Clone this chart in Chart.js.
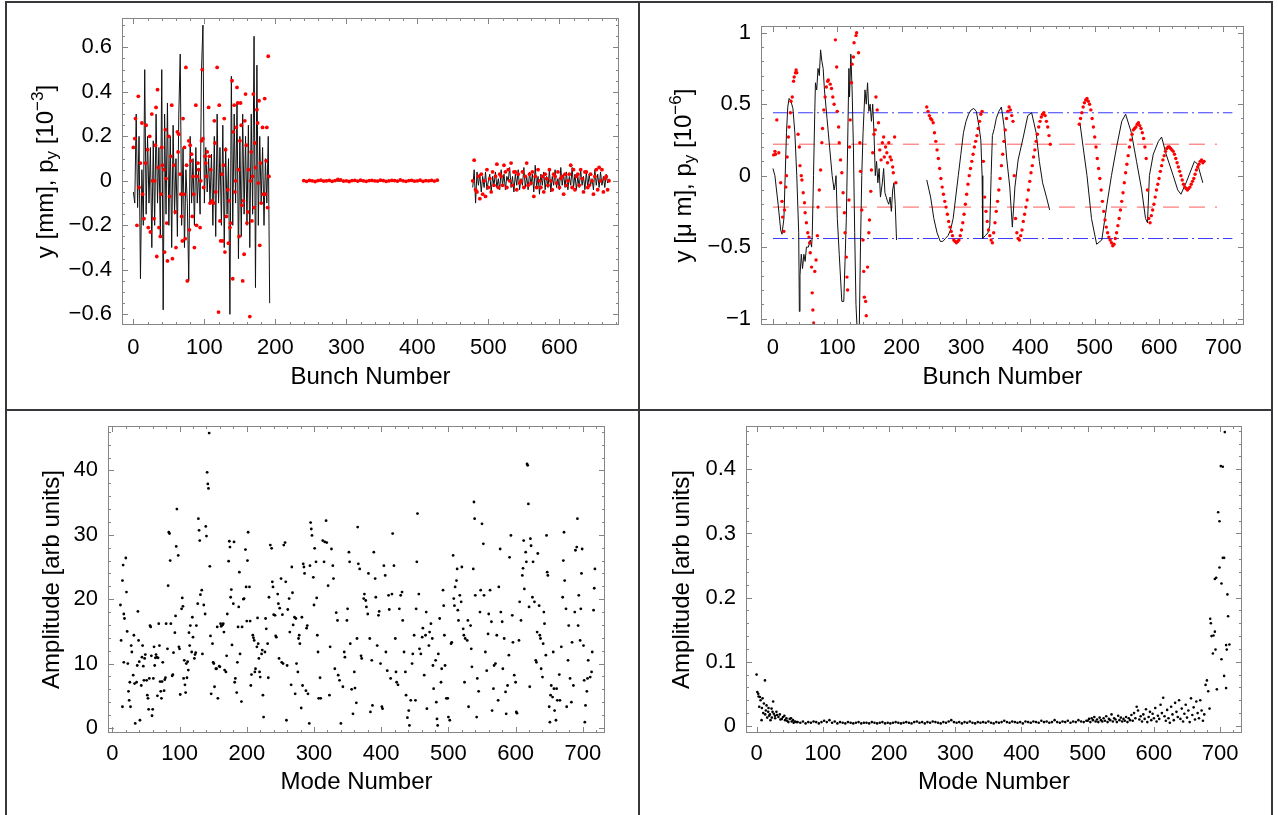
<!DOCTYPE html>
<html>
<head>
<meta charset="utf-8">
<script src="https://cdn.jsdelivr.net/npm/chart.js@4/dist/chart.umd.min.js"></script>
<style>
  body { margin: 0; background: #fff; width: 1278px; height: 815px; overflow: hidden; position: relative; }
  canvas { position: absolute; }
  .rule { position: absolute; background: #37373c; }
</style>
</head>
<body>
<div class="rule" style="left:5px;top:1px;width:1268px;height:2px"></div>
<div class="rule" style="left:5px;top:409px;width:1268px;height:2px"></div>
<div class="rule" style="left:5px;top:1px;width:2px;height:814px"></div>
<div class="rule" style="left:638px;top:1px;width:2px;height:814px"></div>
<div class="rule" style="left:1271px;top:1px;width:2px;height:814px"></div>

<canvas id="bunchY" width="631" height="406" style="left:7px;top:3px"></canvas>
<canvas id="bunchInv" width="631" height="406" style="left:640px;top:3px"></canvas>
<canvas id="modeY" width="631" height="404" style="left:7px;top:411px"></canvas>
<canvas id="modeInv" width="631" height="404" style="left:640px;top:411px"></canvas>

<script>
// ---------- tick labels ----------
const P1_XTICKS = [0, 100, 200, 300, 400, 500, 600];
const P1_YTICKS = [-0.6, -0.4, -0.2, 0, 0.2, 0.4, 0.6];
const P2_XTICKS = [0, 100, 200, 300, 400, 500, 600, 700];
const P2_YTICKS = [-1, -0.5, 0, 0.5, 1];
const P3_XTICKS = [0, 100, 200, 300, 400, 500, 600, 700];
const P3_YTICKS = [0, 10, 20, 30, 40];
const P4_XTICKS = [0, 100, 200, 300, 400, 500, 600, 700];
const P4_YTICKS = [0, 0.1, 0.2, 0.3, 0.4];

// ---------- panel 1: y [mm] (black line) and p_y (red dots) per bunch ----------
// train 1: bunches 0..192, every 2nd bunch
const P1_LINE_A = [-0.05,-0.1,0.3,-0.12,0.2,-0.44,0.05,-0.2,0.5,-0.15,
  0.2,-0.1,0.15,-0.3,0.18,-0.2,0.3,-0.1,0.15,-0.25,
  0.5,-0.58,0.3,-0.15,0.35,-0.2,0.2,-0.3,0.25,-0.15,
  0.1,-0.25,0.3,0.57,-0.2,0.15,-0.3,0.05,-0.1,-0.45,
  0.2,-0.1,0.1,-0.2,0.15,-0.1,0.05,-0.15,0.5,0.7,
  -0.1,0.15,-0.05,0.1,-0.1,0.12,-0.2,0.2,-0.25,0.3,
  -0.1,0.15,-0.2,0.25,-0.3,0.15,-0.15,0.1,-0.6,0.47,
  -0.2,0.3,-0.1,0.35,-0.35,0.2,-0.25,0.3,-0.15,0.2,
  -0.2,0.25,-0.3,0.3,-0.15,0.65,-0.48,0.52,-0.2,0.2,
  -0.1,0.15,-0.2,0.1,-0.1,0.2,-0.55];
// train 2: bunches 240..430, every 5th bunch
const P1_LINE_B = [0.001,-0.001,0.002,0,-0.002,0.001,0.003,-0.001,0.001,0,
  -0.002,0.002,0.001,-0.001,0.002,0,-0.001,0.002,0.001,-0.002,
  0.001,0,0.002,-0.001,0.001,0.002,-0.002,0,0.001,-0.001,
  0.002,0,-0.001,0.001,0.002,-0.002,0.001,0,0.001];
// train 3: bunches 478..670, every 2nd bunch
const P1_LINE_C = [-0.03,0.05,-0.1,0.04,-0.02,0.03,-0.05,0.02,-0.03,0.04,
  -0.04,0,0.03,-0.05,0.02,-0.02,0.04,-0.03,0.01,-0.04,
  0.05,-0.02,0.03,-0.04,0.02,0,0.06,-0.03,0.02,-0.05,
  0.03,-0.02,0.05,-0.04,0.01,-0.02,0.06,-0.03,0.02,-0.04,
  0.04,-0.02,0.03,-0.05,0.07,-0.03,0.02,-0.06,0.03,-0.02,
  0.04,-0.04,0.02,-0.03,0.05,-0.05,0.02,-0.02,0.05,-0.03,
  0.01,-0.04,0.06,-0.02,0.03,-0.03,0.04,-0.04,0.02,-0.02,
  0.06,-0.03,0.03,-0.04,0.02,-0.03,0.05,-0.02,0.02,-0.04,
  0.04,-0.03,0.03,-0.02,0.01,-0.04,0.05,-0.02,0.03,-0.03,
  0.04,-0.02,0.02,-0.03,0.03,-0.01,0.01];
const P1_DOT_BUNCH_A = [0,2,3,5,7,8,10,12,13,15,
  17,18,20,21,23,24,26,27,29,30,
  31,32,33,34,35,36,38,39,40,41,
  43,44,45,46,47,48,50,51,53,54,
  55,57,59,60,62,63,64,66,67,68,
  69,70,71,72,73,74,75,76,78,79,
  80,81,82,83,84,85,86,88,89,90,
  91,92,94,95,96,97,98,99,101,102,
  103,104,106,107,108,109,111,113,114,115,
  116,118,120,121,122,123,125,126,127,128,
  129,130,131,133,134,135,136,137,139,140,
  141,142,143,144,145,146,147,148,149,150,
  151,152,153,154,155,156,157,158,159,164,
  161,162,160,165,166,167,168,169,170,171,
  172,174,175,176,177,178,179,180,182,183,
  185,186,187,188,189,190,191];
const P1_DOT_PY_A = [0.15,0.19,0.28,-0.2,0.38,-0.03,0.08,0.26,-0.06,-0.17,
  0.08,0.25,0.14,-0.21,0.2,-0.23,0.3,0,-0.17,0,
  0.16,0.33,-0.34,0.41,0.06,-0.21,-0.25,-0.06,0.15,0.07,
  0.05,-0.32,0.23,0.01,-0.19,-0.36,0.2,-0.07,0.11,0.34,
  -0.35,0.07,-0.14,-0.3,0.22,0.13,0.21,0.03,-0.06,-0.16,
  -0.27,0.28,-0.06,0.15,-0.26,0.51,0.07,-0.45,0.18,-0.22,
  0.16,0.09,0.12,-0.16,0.02,-0.06,-0.3,0.34,-0.2,0.02,
  0.08,0.05,-0.21,0,0.18,0.5,0.19,-0.03,0.11,0.08,
  0.02,0.13,0.33,0.11,-0.1,0.05,-0.09,-0.1,0.27,0.17,
  -0.05,0.51,-0.59,0.34,-0.18,-0.27,0.03,-0.27,0.07,0.28,
  -0.32,0.14,-0.16,-0.04,-0.28,-0.09,-0.21,-0.19,0.45,-0.44,
  0.22,0.34,-0.05,0,0.24,0.42,0.35,0.05,-0.25,0.18,
  0.35,0.25,-0.11,-0.45,-0.09,-0.33,0.27,0.39,0.16,-0.61,
  -0.14,0.05,-0.19,0,0.13,-0.18,0.02,0.39,-0.12,0.17,
  0.06,0.32,0.26,-0.01,0.36,-0.29,0.08,-0.1,0.24,-0.06,
  0.37,-0.06,0.09,0.24,-0.12,0.56,0.02];
// train 2 dots: bunches 240..428, every 4th bunch
const P1_DOT_PY_B = [0.001,-0.002,0.002,0,-0.003,0.001,0.003,-0.001,0,0.002,
  -0.002,0.001,0.006,0.004,-0.001,0,-0.003,0.001,0.002,-0.001,
  0.003,0,-0.002,0.001,0.002,0,-0.001,0.003,0.001,-0.002,
  0,0.002,0.001,-0.001,0.004,0,-0.002,0.001,0.002,-0.001,
  0,0.003,-0.002,0.001,0,0.002,-0.001,0.003];
// train 3 dots: bunches 478..670, every 2nd bunch
const P1_DOT_PY_C = [0,0.093,-0.04,-0.05,0.02,-0.08,0.03,-0.06,0,-0.07,
  0.05,-0.03,0.01,-0.05,0.04,-0.02,0.02,0.075,-0.03,0.03,
  0.02,-0.02,0.07,0.04,-0.03,0.05,0,0.08,-0.02,0.04,
  0.04,-0.04,0.03,-0.01,0,0.04,-0.03,0.02,0.08,-0.02,
  0.03,-0.01,0.04,-0.07,0.02,-0.03,0.05,0,-0.03,0.02,
  -0.05,0.03,0.01,-0.02,0.05,0,-0.04,0.03,0.02,-0.01,
  0.04,-0.03,0.01,0.02,-0.06,0.03,-0.02,0,0.03,0.07,
  -0.03,0.05,-0.04,0.02,0.03,-0.02,0.05,0.01,-0.05,0.04,
  0.04,-0.03,-0.02,0.03,0,-0.06,0.02,0.05,-0.04,0.06,
  0,0.05,-0.05,0.01,0.02,-0.04,0];

// ---------- panel 2: y [um] (black line) and p_y (red dots) ----------
const P2_LINE_BUNCH_A = [0,3,5,8,12,14,17,19,21,23,
  25,28,31,34,37,40,41,42,44,46,
  48,50,52,55,58,60,61,63,65,66,
  68,70,72,74,76,78,80,84,88,92,
  95,97,98,100,103,107,110,112,114,116,
  118,119,121,123,125,127,129,131,134,136,
  138,140,143,145,147,149,151,153,155,157,
  159,161,163,165,167,170,172,174,176,178,
  180,182,184,186,188,190,192];
const P2_LINE_Y_A = [0.05,0,-0.08,-0.2,-0.38,-0.41,-0.3,0,0.3,0.48,
  0.54,0.52,0.47,0.3,0,-0.4,-0.95,-0.7,-0.55,-0.65,
  -0.55,-0.6,-0.5,-0.5,-0.45,-0.5,-0.42,0,0.45,0.65,
  0.6,0.75,0.7,0.88,0.8,0.75,0.6,0.4,0.2,0,
  -0.1,-0.05,0,-0.3,-0.55,-0.88,-0.88,-0.6,-0.3,0.2,
  0.75,0.55,0.85,0.6,0.2,-0.4,-0.9,-1.1,-1.1,-0.5,
  0,0.3,0.6,0.5,0.65,0.45,0.5,0.38,0.5,0.3,
  0,0.1,-0.05,0.05,-0.15,-0.05,0.05,-0.12,-0.15,-0.18,
  -0.2,-0.15,-0.25,-0.1,-0.05,-0.2,-0.45];
const P2_LINE_BUNCH_B = [239,245,250,255,260,264,268,272,276,280,
  284,288,292,296,300,304,308,312,316,320,
  323,325,326,330,334,337,339,341,344,347,
  351,355,359,363,368,372,376,381,389,396,
  402,409,414,419,425,430];
const P2_LINE_Y_B = [-0.03,-0.15,-0.3,-0.4,-0.46,-0.46,-0.44,-0.42,-0.38,-0.3,
  -0.15,0,0.15,0.3,0.38,0.43,0.46,0.47,0.45,0.35,
  0.25,0,-0.44,-0.42,-0.4,-0.35,0,0.28,0.33,0.4,
  0.45,0.48,0.35,0.13,-0.08,-0.36,-0.08,0.11,0.27,0.42,
  0.44,0.3,0.1,-0.05,-0.15,-0.24];
const P2_LINE_BUNCH_C = [477,482,488,495,503,511,519,526,534,542,
  548,557,565,573,579,582,585,591,599,604,
  611,622,629,634,642,655,660,668];
const P2_LINE_Y_C = [0.37,0.2,0,-0.3,-0.48,-0.45,-0.2,0,0.2,0.38,
  0.43,0.3,0.1,-0.1,-0.3,-0.33,0,0.15,0.24,0.27,
  0.15,0,-0.1,-0.13,-0.05,0.1,0.08,-0.05];
const P2_DOT_BUNCH_A = [1,3,4,6,9,12,14,15,17,18,
  20,21,22,24,25,27,28,30,32,33,
  35,36,37,39,41,42,44,45,47,49,
  50,52,54,56,57,58,60,61,62,63,
  65,67,69,70,72,74,76,77,79,81,
  83,85,86,89,91,93,95,97,99,100,
  102,103,105,107,109,111,112,114,115,116,
  118,119,120,122,123,125,126,129,130,133,
  135,136,138,140,141,142,144,145,147,149,
  150,152,153,155,157,159,160,162,164,166,
  168,170,172,173,175,177,178,180,182,184,
  186,187,189,191];
const P2_DOT_PY_A = [0.145,0.17,0.15,0.39,0.16,-0.05,-0.18,-0.29,-0.39,-0.24,
  -0.08,0,0.13,0.27,0.34,0.44,0.52,0.55,0.66,0.69,
  0.72,0.74,0.72,0.29,0.2,0.07,0,-0.03,-0.12,-0.19,
  -0.26,-0.33,-0.4,-0.43,-0.47,-0.54,-0.64,-0.82,-0.94,-1.03,
  -0.67,-0.59,-0.42,-0.22,-0.1,0.04,0.23,0.33,0.46,0.55,
  0.62,0.66,0.67,0.64,0.61,0.55,0.5,0.95,0.76,0.45,
  0.34,0.23,0.11,0.02,-0.12,-0.26,-0.4,-0.57,-0.71,-0.8,
  -0.17,0.2,0.39,0.65,0.78,0.83,0.93,0.98,1,0.86,
  0.23,0.03,-0.24,-0.45,-0.67,-0.85,-0.88,-0.98,-0.64,-0.4,
  -0.31,-0.11,0.04,0.16,0.29,0.32,0.55,0.46,0.37,0.18,
  0.11,0.23,0.27,0.13,0.2,0.16,0.09,0.23,0.13,0.11,
  0.06,0.02,0.27,-0.05];
// train 2 dots: bunches 239..431, every 2nd bunch
const P2_DOT_PY_B = [0.48,0.45,0.42,0.4,0.39,0.37,0.3,0.24,0.18,0.12,
  0.05,-0.02,-0.08,-0.13,-0.18,-0.22,-0.27,-0.32,-0.36,-0.39,
  -0.42,-0.45,-0.46,-0.47,-0.46,-0.45,-0.42,-0.38,-0.33,-0.27,
  -0.2,-0.13,-0.06,0,0.05,0.1,0.15,0.2,0.24,0.28,
  0.33,0.38,0.43,0.45,0.1,-0.15,-0.25,-0.32,-0.38,-0.42,
  -0.45,-0.47,-0.4,-0.33,-0.25,-0.18,-0.1,-0.02,0.07,0.15,
  0.24,0.32,0.4,0.45,0.48,0.46,0.42,0.38,0,-0.3,
  -0.4,-0.44,-0.45,-0.42,-0.38,-0.32,-0.27,-0.22,-0.17,-0.1,
  -0.04,0.02,0.07,0.13,0.18,0.24,0.29,0.34,0.38,0.41,
  0.43,0.44,0.42,0.38,0.34,0.28,0.22];
// train 3 dots: bunches 476..670, every 2nd bunch
const P2_DOT_PY_C = [0.36,0.4,0.44,0.48,0.51,0.53,0.54,0.52,0.5,0.46,
  0.4,0.34,0.27,0.2,0.12,0.05,-0.02,-0.1,-0.18,-0.25,
  -0.31,-0.36,-0.4,-0.43,-0.45,-0.47,-0.49,-0.48,-0.44,-0.4,
  -0.35,-0.3,-0.24,-0.18,-0.12,-0.05,0.02,0.08,0.14,0.2,
  0.25,0.29,0.32,0.33,0.34,0.36,0.37,0.35,0.33,0.3,
  0.26,0.2,0.12,-0.1,-0.3,-0.33,-0.28,-0.24,-0.2,-0.15,
  -0.1,-0.06,-0.02,0.03,0.07,0.11,0.14,0.17,0.19,0.2,
  0.2,0.19,0.18,0.17,0.15,0.12,0.09,0.06,0.03,0,
  -0.03,-0.06,-0.08,-0.09,-0.1,-0.09,-0.08,-0.06,-0.04,-0.02,
  0.01,0.04,0.06,0.08,0.1,0.11,0.09,0.1];
const P2_LIMIT_OUTER = 0.44;   // blue dash-dot
const P2_LIMIT_INNER = 0.22;   // red dashed
const P2_LIMIT_OUTER_END = 714;
const P2_LIMIT_INNER_END = 690;

// ---------- panel 3: mode amplitudes, y position ----------
const P3_MODE = [12,13,15,15,16,17,18,17,20,21,
  22,23,24,25,26,27,28,29,31,32,
  33,34,36,37,38,39,40,41,43,44,
  45,46,47,48,49,51,52,53,54,55,
  56,57,58,59,60,61,62,63,64,65,
  66,67,68,69,70,71,72,73,74,75,
  77,78,79,80,82,83,84,85,86,87,
  89,90,91,93,94,95,96,98,99,100,
  101,103,104,105,106,107,108,109,110,111,
  112,113,114,115,116,118,119,120,122,123,
  124,125,127,128,129,130,131,133,134,136,
  138,139,140,141,142,143,144,145,146,147,
  149,150,151,152,154,155,156,157,159,160,
  161,162,164,165,166,167,169,170,171,173,
  174,175,176,177,178,180,181,182,183,185,
  186,187,188,189,190,192,193,195,196,198,
  199,200,201,202,204,205,206,207,209,210,
  211,212,213,215,216,217,218,219,220,222,
  223,224,225,227,228,229,231,232,233,235,
  237,238,239,240,242,243,244,246,247,248,
  249,251,252,253,254,255,257,258,259,260,
  261,263,264,266,267,268,269,271,272,273,
  274,276,277,278,279,281,282,283,284,285,
  286,288,289,290,291,293,294,295,296,297,
  299,300,301,303,304,305,306,307,309,310,
  313,315,316,318,319,321,323,324,326,328,
  329,331,333,335,336,338,340,343,345,346,
  349,350,352,353,354,356,358,360,361,363,
  364,365,366,368,370,371,374,375,377,378,
  380,381,383,384,386,387,389,391,392,394,
  396,397,399,401,402,404,406,407,409,411,
  412,414,416,417,419,421,422,423,425,427,
  429,431,432,434,436,437,439,441,442,444,
  446,447,449,451,452,453,454,456,457,459,
  461,462,464,466,467,468,471,472,474,476,
  477,478,481,482,483,484,485,487,489,490,
  492,493,494,495,497,499,500,502,504,505,
  507,508,509,510,512,513,514,515,517,519,
  520,522,523,524,525,528,529,530,533,534,
  535,537,538,539,540,542,543,545,547,548,
  550,552,553,555,557,559,560,562,564,565,
  567,568,570,572,574,575,577,578,580,581,
  583,585,586,588,590,591,593,595,596,598,
  600,601,602,605,606,608,610,611,612,613,
  615,616,617,618,619,620,621,622,623,625,
  626,628,630,631,632,633,635,636,637,638,
  640,641,642,643,645,646,647,648,650,651,
  652,653,655,656,657,658,660,661,662,665,
  666,668,670,671,672,673,675,676,678,679,
  681,683,684,686,688,689,691,692,693,694,
  696,697,698,699,701,702,703,704,706,707,
  708,711,713,714,716,717,718];
const P3_AMP = [19.1,13.6,3.3,22.9,25.3,17.7,17,10.2,26.4,21.1,
  15,10,5.7,4.3,7.1,3.3,12.8,11.8,8.2,14.4,
  6.9,0.7,7.1,9.7,18.1,13.6,10.3,1.2,6.6,11,
  12.8,9.6,7.4,10.8,11.4,7.4,5.1,4.6,2.9,7.7,
  15.9,15.7,11.2,1.9,2.9,7.7,12.6,9.7,10.9,11.4,
  11,5,10.9,16.2,12.8,7.2,5.7,4.6,7.2,10.2,
  5.8,7.5,7.8,16.2,12.3,22.1,30.4,30.2,26,16.2,
  8.1,8.3,11.7,14.8,17.4,28.2,34,26.8,12.6,12.3,
  5.2,18.5,20.2,18.9,7.7,10.5,6.7,5.5,10,7.8,
  10.3,9,14.8,12.8,15.9,11.8,17.2,14.1,10.8,11.4,
  11.7,15.9,19.3,32.5,30.7,29.1,20.7,21.4,11.5,19.1,
  17.7,31.3,29.8,39.7,37.9,37.2,45.8,25.1,14.3,5.3,
  13.1,10.2,10,6.4,9.2,9.2,15.7,4.6,9.6,9.5,
  16.2,15.8,16,16.2,14.9,9,8.7,11.2,17.7,25.9,
  29,28.1,20.3,21.5,12.9,19.3,28.9,7.1,7.7,5.5,
  10.2,15.7,18.8,24.2,11.5,4.1,15.7,20,20.1,27.7,
  21.9,16.6,26,30.4,21.9,16.6,6.6,8.3,14.4,14,
  13.6,8.7,9.2,12.6,17.1,13.1,10.8,8.7,7.9,11.5,
  12.1,5.1,1.7,11.8,17,15.4,13.1,7.8,20.3,28.4,
  27.9,22.7,21.9,17.6,17.5,14.3,14.1,20.8,19.3,10.8,
  18.6,23.2,10.2,17.6,10,28.4,28.8,22.7,1.2,9.7,
  18.4,20.1,14.9,6.7,25,21,16,17.2,5.3,17,
  10,8.7,13.9,14.4,13.1,3.1,17.2,6.6,25.5,25,
  24,5.8,15.5,15.9,5.3,0.7,25.2,31.9,30.9,29.9,
  23.4,19.1,27.9,25.8,20.2,14.4,11.8,4.6,7.8,4.6,
  29.1,25.8,28.9,32.2,28.8,22.1,5.1,12.6,27.8,25.2,
  23.2,9.2,17.9,16.7,8.2,7.4,0.7,6.4,11.8,11,
  16.7,18.5,27.3,25.8,13.1,6,2.2,8.7,6.2,3.9,
  13.9,31.2,25.5,24.7,11.2,10.8,20.1,20.8,19.8,18.8,
  17.7,24,13.9,2.5,10.5,3.5,27.3,23.2,20.3,12.8,
  17.5,18.1,10,3.3,3,25.2,23.7,11.8,8.9,20.6,
  18.4,7.7,20.8,30.2,25.2,13.9,8.7,7.1,6.7,18.5,
  20.6,21.1,16.7,11.8,8.7,5.1,1.6,2.7,0.4,4.3,
  10,11.5,14.4,4.3,18.5,25.8,33.3,20.8,12.3,11.5,
  14.1,15.5,8.2,14.4,18,3,12.8,14.9,16.2,13.9,
  9.7,6.1,10.5,4,1.4,0.4,11.5,17,7.1,9.2,
  21.4,19,14.4,9.7,4.6,4.6,1.7,1.2,13.1,13.3,
  26.8,20.1,19,21.9,22.9,24.7,18.3,16.7,20.6,19.6,
  25,15.4,14.4,7.1,13.9,13.6,16.7,3.3,15.9,12.3,
  9.5,24.7,35.1,32.5,20.6,1.7,7.7,5.7,18,21.4,
  31.7,28.6,20.6,11.8,8.9,14.6,17.7,21.4,16.5,2.7,
  6.1,9.7,10,14.4,4.3,21.9,27.8,18,16.5,9.2,
  13.9,5.6,2.2,6.6,11.3,26.5,29.9,17.5,13.3,8.2,
  7.1,2.5,2.3,13.6,19.6,16.7,23.7,24.8,29.1,21.6,
  27.3,25.8,41,40.8,34.8,18.8,6.4,29.4,28.3,20.3,
  25.8,19.6,10.5,10.2,14.9,27.1,19,14.4,13.9,9.2,
  7.9,13.1,18,16.2,11.3,29.9,24.2,23.7,3.3,0.9,
  5.1,6.6,4.8,11.8,6.1,2.7,1.2,6.1,4.3,8.3,
  4.3,12.6,20.3,26,30.4,22.9,18.5,3.3,10.5,15.9,
  7.7,4,13.3,6.6,18,27.6,28.1,32.5,15.9,20.6,
  13.6,18.5,24,27.8,12.8,7.4,0.9,3.5,5.7,7.7,
  10.5,7.9,8.7,11.8,18.3,21.7,24.7];

// ---------- panel 4: mode amplitudes, y' ----------
const P4_MODE_LOW = [0,1,2.5,3,4,5,6,7.5,8,9,
  10,11,12.6,13,14,15,16,17.6,18,19,
  20,21,22.6,23,24,25,26,27.7,28,30,
  31,33,35,36,38,40,42,43,45,46,
  48,50,52,53,55,56,58,60];
const P4_AMP_LOW = [0.08,0.053,0.05,0.046,0.03,0.045,0.04,0.009,0.028,0.043,
  0.02,0.035,0.071,0.018,0.024,0.032,0.013,0.022,0.028,0.016,
  0.018,0.009,0.027,0.013,0.022,0.038,0.019,0.016,0.012,0.022,
  0.017,0.014,0.018,0.01,0.011,0.014,0.016,0.009,0.012,0.008,
  0.006,0.011,0.012,0.007,0.009,0.005,0.007,0.006];
// modes 62..498, every 4th mode
const P4_AMP_MID = [0.006,0.005,0.007,0.004,0.006,0.005,0.007,0.006,0.004,0.006,
  0.008,0.006,0.009,0.005,0.007,0.004,0.006,0.005,0.004,0.006,
  0.005,0.004,0.005,0.006,0.004,0.005,0.005,0.004,0.006,0.005,
  0.004,0.005,0.006,0.004,0.005,0.004,0.005,0.006,0.005,0.004,
  0.005,0.006,0.005,0.004,0.006,0.007,0.005,0.006,0.004,0.006,
  0.005,0.007,0.006,0.005,0.004,0.006,0.005,0.007,0.009,0.006,
  0.005,0.006,0.004,0.006,0.005,0.007,0.005,0.004,0.006,0.005,
  0.006,0.005,0.007,0.005,0.004,0.006,0.005,0.006,0.008,0.006,
  0.005,0.007,0.006,0.005,0.006,0.004,0.007,0.006,0.005,0.007,
  0.006,0.005,0.008,0.006,0.007,0.005,0.006,0.009,0.006,0.005,
  0.007,0.006,0.008,0.005,0.007,0.006,0.009,0.007,0.006,0.008];
// modes 500..682, every 2nd mode
const P4_AMP_HIGH = [0.008,0.011,0.006,0.012,0.009,0.014,0.007,0.01,0.006,0.013,
  0.009,0.007,0.012,0.008,0.015,0.006,0.011,0.009,0.018,0.007,
  0.012,0.01,0.006,0.016,0.009,0.013,0.007,0.011,0.008,0.014,
  0.006,0.012,0.009,0.017,0.008,0.02,0.012,0.03,0.024,0.01,
  0.015,0.007,0.018,0.011,0.026,0.006,0.014,0.022,0.009,0.019,
  0.012,0.028,0.007,0.016,0.011,0.033,0.02,0.044,0.015,0.008,
  0.025,0.012,0.005,0.03,0.018,0.009,0.036,0.022,0.014,0.04,
  0.011,0.027,0.007,0.019,0.033,0.013,0.024,0.006,0.043,0.017,
  0.029,0.01,0.038,0.02,0.012,0.04,0.024,0.008,0.018,0.064,
  0.071,0.054];
const P4_MODE_TOP = [684,685,686,687,689,690,692,692,693,694,
  695,697,699,699,701,702,702,704,704,706,
  706,707,709,709,710,711,712,714];
const P4_AMP_TOP = [0.027,0.167,0.16,0.14,0.113,0.141,0.147,0.229,0.119,0.231,
  0.057,0.333,0.319,0.247,0.405,0.222,0.104,0.404,0.262,0.262,
  0.078,0.458,0.126,0.059,0.119,0.205,0.171,0.127];

// ---------- helpers ----------
const FONT = '"Liberation Sans", Arial, Helvetica, sans-serif';
Chart.defaults.font.family = FONT;
Chart.defaults.color = '#000';

function zip(xs, ys) {
  const n = Math.min(xs.length, ys.length), out = [];
  for (let i = 0; i < n; i++) out.push({ x: xs[i], y: ys[i] });
  return out;
}
function stepped(start, step, ys) {
  return ys.map((y, i) => ({ x: start + i * step, y }));
}
function signed(v) {
  if (v === 0) return '0';
  return (v < 0 ? '\u2212' : '') + String(+Math.abs(v).toFixed(3));
}
function marks(min, max, step) {
  const out = [];
  for (let k = Math.ceil(min / step - 1e-9); k * step <= max + 1e-9; k++) out.push(+(k * step).toFixed(6));
  return out;
}

// frame around the plot with inward ticks on all four sides (Mathematica style)
function frameTicks(xMajor, xMinor, yMajor, yMinor) {
  return {
    id: 'frameTicks',
    afterDatasetsDraw(chart) {
      const { ctx, chartArea: a } = chart;
      const xs = chart.scales.x, ys = chart.scales.y;
      ctx.save();
      ctx.strokeStyle = '#858585';
      ctx.lineWidth = 1;
      ctx.strokeRect(a.left + 0.5, a.top + 0.5, a.width - 1, a.height - 1);
      ctx.beginPath();
      const doX = (step, len) => marks(xs.min, xs.max, step).forEach(v => {
        const p = Math.round(xs.getPixelForValue(v)) + 0.5;
        if (p < a.left + 1 || p > a.right - 1) return;
        ctx.moveTo(p, a.bottom); ctx.lineTo(p, a.bottom - len);
        ctx.moveTo(p, a.top); ctx.lineTo(p, a.top + len);
      });
      const doY = (step, len) => marks(ys.min, ys.max, step).forEach(v => {
        const p = Math.round(ys.getPixelForValue(v)) + 0.5;
        if (p < a.top + 1 || p > a.bottom - 1) return;
        ctx.moveTo(a.left, p); ctx.lineTo(a.left + len, p);
        ctx.moveTo(a.right, p); ctx.lineTo(a.right - len, p);
      });
      doX(xMinor, 3); doX(xMajor, 6);
      doY(yMinor, 3); doY(yMajor, 6);
      ctx.stroke();
      ctx.restore();
    }
  };
}

// rotated y title with subscripts / superscripts
function yTitle(parts, x, size) {
  return {
    id: 'yTitle',
    afterDraw(chart) {
      const { ctx, chartArea: a } = chart;
      const small = Math.round(size * 0.7);
      ctx.save();
      const widths = parts.map(p => {
        ctx.font = (p.s ? small : size) + 'px ' + FONT;
        return ctx.measureText(p.t).width;
      });
      const total = widths.reduce((s, w) => s + w, 0);
      ctx.translate(x, (a.top + a.bottom) / 2);
      ctx.rotate(-Math.PI / 2);
      ctx.fillStyle = '#000';
      ctx.textBaseline = 'middle';
      ctx.textAlign = 'left';
      let cx = -total / 2;
      parts.forEach((p, i) => {
        ctx.font = (p.s ? small : size) + 'px ' + FONT;
        const dy = p.s === 'sub' ? size * 0.28 : p.s === 'sup' ? -size * 0.33 : 0;
        ctx.fillText(p.t, cx, dy);
        cx += widths[i];
      });
      ctx.restore();
    }
  };
}

function dots(data, color, r) {
  return { data, showLine: false, pointRadius: r, pointBorderWidth: 0,
    pointBackgroundColor: color, pointBorderColor: color, pointHoverRadius: r };
}
function trace(data, color, width, dash) {
  return { data, showLine: true, pointRadius: 0, pointHoverRadius: 0, borderColor: color,
    borderWidth: width, borderDash: dash || [], tension: 0, fill: false };
}

function buildChart(id, p) {
  const canvas = document.getElementById(id);
  const W = canvas.width, H = canvas.height;
  return new Chart(canvas, {
    type: 'scatter',
    data: { datasets: p.datasets },
    options: {
      responsive: false,
      animation: false,
      events: [],
      layout: { padding: { top: p.area.top, right: W - p.area.right, left: 0, bottom: 0 } },
      plugins: { legend: { display: false }, tooltip: { enabled: false } },
      scales: {
        x: {
          type: 'linear', min: p.x.min, max: p.x.max,
          grid: { display: false }, border: { display: false },
          afterBuildTicks: s => { s.ticks = p.x.ticks.map(value => ({ value })); },
          afterFit: s => { s.height = H - p.area.bottom; s.paddingLeft = 0; s.paddingRight = 0; },
          ticks: { autoSkip: false, maxRotation: 0, minRotation: 0, padding: p.x.pad,
            font: { size: 22 }, color: '#000', callback: signed },
          title: { display: true, text: p.x.title, color: '#000', font: { size: 24 },
            padding: { top: 0, bottom: p.x.titlePad } }
        },
        y: {
          type: 'linear', min: p.y.min, max: p.y.max,
          grid: { display: false }, border: { display: false },
          afterBuildTicks: s => { s.ticks = p.y.ticks.map(value => ({ value })); },
          afterFit: s => { s.width = p.area.left; s.paddingTop = 0; s.paddingBottom = 0; },
          ticks: { autoSkip: false, padding: 2, font: { size: 22 }, color: '#000', callback: signed },
          title: { display: false }
        }
      }
    },
    plugins: [frameTicks(p.x.major, p.x.minor, p.y.major, p.y.minor),
      yTitle(p.y.title, p.y.titleX, 24)]
  });
}

// ---------- panel 1 ----------
buildChart('bunchY', {
  area: { left: 115, top: 15, right: 612, bottom: 322 },
  x: { min: -16, max: 684, ticks: P1_XTICKS, major: 100, minor: 20, pad: 2, title: 'Bunch Number', titlePad: 17 },
  y: { min: -0.648, max: 0.732, ticks: P1_YTICKS, major: 0.2, minor: 0.05, titleX: 39,
       title: [{ t: 'y [mm], p' }, { t: 'y', s: 'sub' }, { t: ' [10' }, { t: '\u22123', s: 'sup' }, { t: ']' }] },
  datasets: [
    dots(zip(P1_DOT_BUNCH_A, P1_DOT_PY_A), '#ff0000', 1.9),
    dots(stepped(240, 4, P1_DOT_PY_B), '#ff0000', 1.9),
    dots(stepped(478, 2, P1_DOT_PY_C), '#ff0000', 1.9),
    trace(stepped(0, 2, P1_LINE_A), '#111', 1),
    trace(stepped(240, 5, P1_LINE_B), '#111', 1),
    trace(stepped(478, 2, P1_LINE_C), '#111', 1)
  ]
});

// ---------- panel 2 ----------
buildChart('bunchInv', {
  area: { left: 121, top: 23, right: 604, bottom: 322 },
  x: { min: -18.6, max: 732, ticks: P2_XTICKS, major: 100, minor: 20, pad: 2, title: 'Bunch Number', titlePad: 17 },
  y: { min: -1.045, max: 1.047, ticks: P2_YTICKS, major: 0.5, minor: 0.1, titleX: 44,
       title: [{ t: 'y [\u03bc m], p' }, { t: 'y', s: 'sub' }, { t: ' [10' }, { t: '\u22126', s: 'sup' }, { t: ']' }] },
  datasets: [
    dots(zip(P2_DOT_BUNCH_A, P2_DOT_PY_A), '#ff0000', 1.7),
    dots(stepped(239, 2, P2_DOT_PY_B), '#ff0000', 1.7),
    dots(stepped(476, 2, P2_DOT_PY_C), '#ff0000', 1.7),
    trace(zip(P2_LINE_BUNCH_A, P2_LINE_Y_A), '#111', 1),
    trace(zip(P2_LINE_BUNCH_B, P2_LINE_Y_B), '#111', 1),
    trace(zip(P2_LINE_BUNCH_C, P2_LINE_Y_C), '#111', 1),
    trace([{ x: 0, y: P2_LIMIT_OUTER }, { x: P2_LIMIT_OUTER_END, y: P2_LIMIT_OUTER }], '#3a3aff', 1, [15, 4, 2, 4]),
    trace([{ x: 0, y: -P2_LIMIT_OUTER }, { x: P2_LIMIT_OUTER_END, y: -P2_LIMIT_OUTER }], '#3a3aff', 1, [15, 4, 2, 4]),
    trace([{ x: 0, y: P2_LIMIT_INNER }, { x: P2_LIMIT_INNER_END, y: P2_LIMIT_INNER }], '#ff5a5a', 1, [16, 10]),
    trace([{ x: 0, y: -P2_LIMIT_INNER }, { x: P2_LIMIT_INNER_END, y: -P2_LIMIT_INNER }], '#ff5a5a', 1, [16, 10])
  ]
});

// ---------- panel 3 ----------
buildChart('modeY', {
  area: { left: 101, top: 15, right: 598, bottom: 322 },
  x: { min: -6.5, max: 733, ticks: P3_XTICKS, major: 100, minor: 20, pad: 0, title: 'Mode Number', titlePad: 18 },
  y: { min: -0.78, max: 46.9, ticks: P3_YTICKS, major: 10, minor: 2, titleX: 45,
       title: [{ t: 'Amplitude [arb units]' }] },
  datasets: [ dots(zip(P3_MODE, P3_AMP), '#000', 1.4) ]
});

// ---------- panel 4 ----------
buildChart('modeInv', {
  area: { left: 106, top: 15, right: 602, bottom: 322 },
  x: { min: -16, max: 733, ticks: P4_XTICKS, major: 100, minor: 20, pad: 0, title: 'Mode Number', titlePad: 18 },
  y: { min: -0.011, max: 0.4675, ticks: P4_YTICKS, major: 0.1, minor: 0.02, titleX: 42,
       title: [{ t: 'Amplitude [arb units]' }] },
  datasets: [
    dots(zip(P4_MODE_LOW, P4_AMP_LOW), '#000', 1.3),
    dots(stepped(62, 4, P4_AMP_MID), '#000', 1.3),
    dots(stepped(500, 2, P4_AMP_HIGH), '#000', 1.3),
    dots(zip(P4_MODE_TOP, P4_AMP_TOP), '#000', 1.3)
  ]
});
</script>
</body>
</html>
